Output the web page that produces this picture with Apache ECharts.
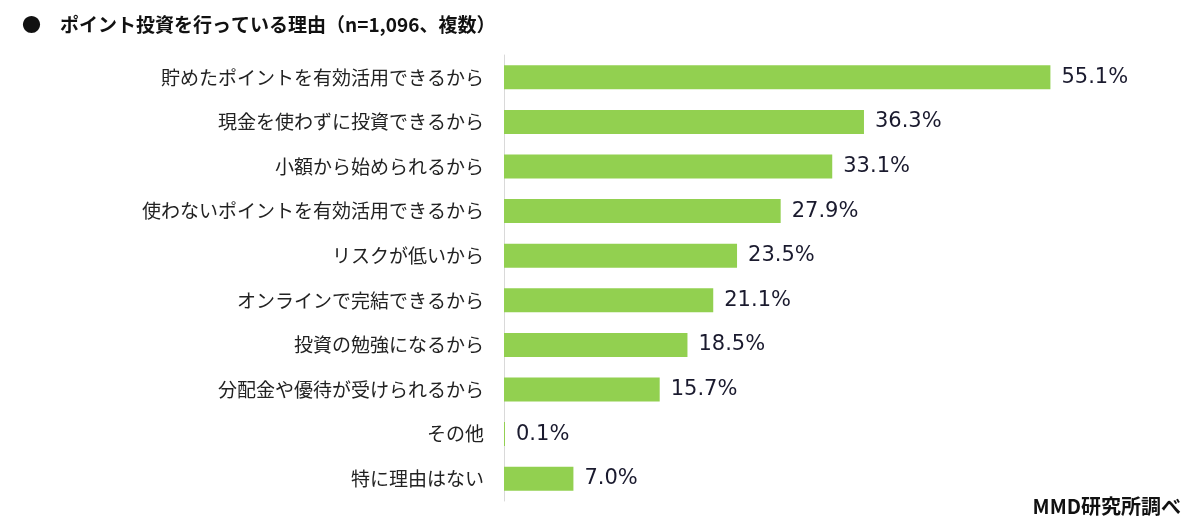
<!DOCTYPE html>
<html>
<head>
<meta charset="utf-8">
<script src="https://cdn.jsdelivr.net/npm/echarts@6/dist/echarts.min.js"></script>
<style>
html, body { margin: 0; padding: 0; background: #fff; }
#chart { width: 1200px; height: 526px; }
</style>
</head>
<body>
<div id="chart"></div>
<script>
// 理由ごとの割合（上から順）
const categories = [
    '貯めたポイントを有効活用できるから',
    '現金を使わずに投資できるから',
    '小額から始められるから',
    '使わないポイントを有効活用できるから',
    'リスクが低いから',
    'オンラインで完結できるから',
    '投資の勉強になるから',
    '分配金や優待が受けられるから',
    'その他',
    '特に理由はない'
];
const values = [55.1, 36.3, 33.1, 27.9, 23.5, 21.1, 18.5, 15.7, 0.1, 7.0];

let myChart = echarts.init(document.getElementById('chart'));
let option = {
    animation: false,
    title: [{
        text: '●　ポイント投資を行っている理由（n=1,096、複数）',
        left: 17,
        top: 10,
        textStyle: {
            fontFamily: 'Noto Sans CJK JP',
            fontSize: 19,
            fontWeight: 'bold',
            color: '#111'
        }
    }, {
        text: 'MMD研究所調べ',
        right: 14,
        top: 491,
        textStyle: {
            fontFamily: 'Noto Sans CJK JP',
            fontSize: 20,
            fontWeight: 'bold',
            color: '#111'
        }
    }],
    grid: {
        left: 504,
        top: 55,
        width: 595,
        height: 446
    },
    xAxis: {
        type: 'value',
        min: 0,
        max: 60,
        show: false
    },
    yAxis: {
        type: 'category',
        data: categories,
        inverse: true,
        axisLine: {show: true, lineStyle: {color: '#d9d9d9', width: 1}},
        axisTick: {show: false},
        axisLabel: {
            margin: 20,
            fontFamily: 'Noto Sans CJK JP',
            fontSize: 19,
            color: '#222'
        }
    },
    series: [{
        type: 'bar',
        data: values,
        barWidth: 24,
        itemStyle: {color: '#92d050'},
        label: {
            show: true,
            position: 'right',
            distance: 11,
            fontFamily: 'DejaVu Sans',
            fontSize: 21,
            color: '#1a1a2e',
            formatter: p => p.value.toFixed(1) + '%'
        }
    }]
};
myChart.setOption(option);
</script>
</body>
</html>
